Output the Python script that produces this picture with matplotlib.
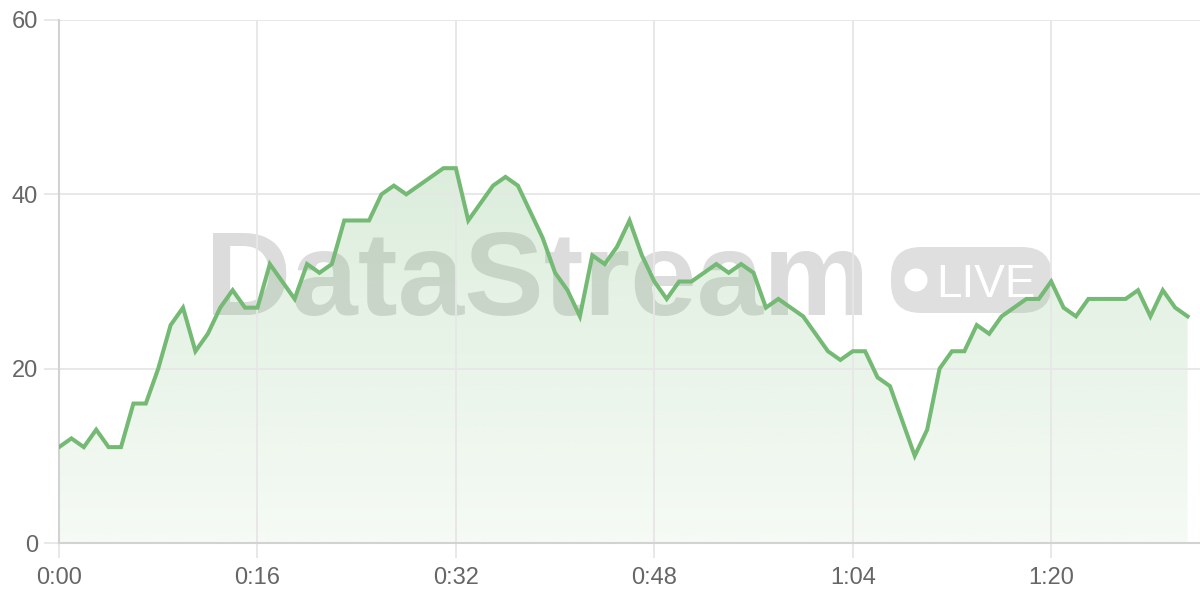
import matplotlib
matplotlib.use('Agg')
import matplotlib.pyplot as plt
import numpy as np
from matplotlib.patches import FancyBboxPatch, Circle, Polygon
from matplotlib.colors import to_rgb

# datos: un valor por segundo
seconds = list(range(92))
values = [11, 12, 11, 13, 11, 11, 16, 16, 20, 25,
          27, 22, 24, 27, 29, 27, 27, 32, 30, 28,
          32, 31, 32, 37, 37, 37, 40, 41, 40, 41,
          42, 43, 43, 37, 39, 41, 42, 41, 38, 35,
          31, 29, 26, 33, 32, 34, 37, 33, 30, 28,
          30, 30, 31, 32, 31, 32, 31, 27, 28, 27,
          26, 24, 22, 21, 22, 22, 19, 18, 14, 10,
          13, 20, 22, 22, 25, 24, 26, 27, 28, 28,
          30, 27, 26, 28, 28, 28, 28, 29, 26, 29,
          27, 26]
x_ticks = [0, 16, 32, 48, 64, 80]
x_labels = ['0:00', '0:16', '0:32', '0:48', '1:04', '1:20']
y_ticks = [0, 20, 40, 60]

line_color = '#74b974'
grid_color = '#e6e6e6'
axis_color = '#d2d2d2'
text_color = '#666666'

plt.rcParams['font.family'] = ['Liberation Sans', 'DejaVu Sans']

fig = plt.figure(figsize=(12, 6), dpi=100, facecolor='white')

# marca de agua (debajo de la grafica)
wm = fig.add_axes([0, 0, 1, 1], zorder=0)
wm.set_xlim(0, 1200)
wm.set_ylim(600, 0)
wm.axis('off')
wm.text(205, 315, 'DataStream', fontsize=86, fontweight='bold',
        color='#a0a0a0', alpha=0.37, va='baseline', ha='left')
badge = FancyBboxPatch((891, 247), 161, 66,
                       boxstyle='round,pad=0,rounding_size=30',
                       facecolor='#a0a0a0', edgecolor='none', alpha=0.33)
wm.add_patch(badge)
wm.add_patch(Circle((916, 280), 11.5, facecolor='white', edgecolor='none'))
wm.text(936, 297, 'LIVE', fontsize=33, color='white', va='baseline', ha='left')

ax = fig.add_axes([59 / 1200, 57 / 600, 1141 / 1200, 523 / 600], zorder=1)
ax.patch.set_alpha(0)
ax.set_xlim(0, 92)
ax.set_ylim(0, 60)

# relleno con degradado bajo la linea
x = np.array(seconds, dtype=float)
y = np.array(values, dtype=float)
verts = np.vstack([np.column_stack([x, y]), [[x[-1], 0], [x[0], 0]]])
poly = Polygon(verts, closed=True, facecolor='none', edgecolor='none')
ax.add_patch(poly)
grad = np.zeros((256, 1, 4))
grad[:, 0, :3] = to_rgb(line_color)
grad[:, 0, 3] = np.linspace(0.07, 0.25, 256)
img = ax.imshow(grad, origin='lower', aspect='auto',
                extent=[x[0], x[-1], 0, max(values)], zorder=1)
img.set_clip_path(poly)

ax.plot(x, y, color=line_color, lw=2.9, zorder=3, solid_joinstyle='miter')

# ejes y rejilla
ax.set_xticks(x_ticks)
ax.set_xticklabels(x_labels)
ax.set_yticks(y_ticks)
ax.grid(True, color=grid_color, lw=1.3, zorder=0)
for s in ['top', 'right']:
    ax.spines[s].set_visible(False)
ax.spines['left'].set_color(axis_color)
ax.spines['bottom'].set_color(axis_color)
ax.spines['left'].set_linewidth(1.5)
ax.spines['bottom'].set_linewidth(1.5)
ax.tick_params(axis='both', length=11, width=1.3, color=grid_color,
               labelsize=17, labelcolor=text_color, pad=6)
ax.tick_params(axis='y', pad=4)

fig.savefig('out.png', dpi=100)
